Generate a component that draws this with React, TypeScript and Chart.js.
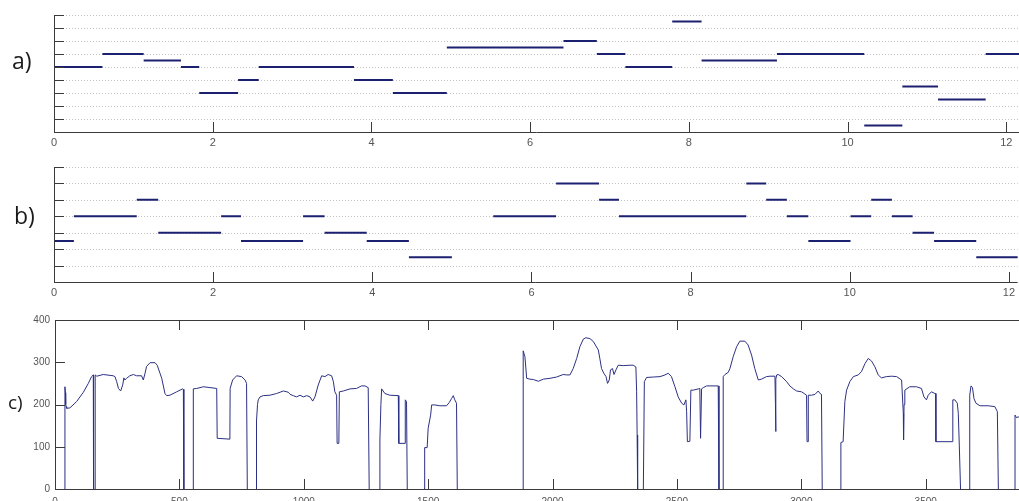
import React, { useEffect, useRef } from 'react';
import { Chart, registerables } from 'chart.js';

Chart.register(...registerables);

// ---------- Panel a) : step levels ----------
const aStart = [0, 0.61, 1.13, 1.6, 1.83, 2.32, 2.58, 3.78, 4.27, 4.95, 6.42, 6.84, 7.2, 7.79, 8.16, 9.11, 10.21, 10.69, 11.14, 11.74];
const aEnd = [0.61, 1.13, 1.6, 1.83, 2.32, 2.58, 3.78, 4.27, 4.95, 6.42, 6.84, 7.2, 7.79, 8.16, 9.11, 10.21, 10.69, 11.14, 11.74, 12.4];
const aLevel = [5, 6, 5.5, 5, 3, 4, 5, 4, 3, 6.5, 7, 6, 5, 8.5, 5.5, 6, 0.5, 3.5, 2.5, 6];

// ---------- Panel b) : step levels ----------
const bStart = [0, 0.25, 1.04, 1.31, 2.1, 2.35, 3.13, 3.4, 3.93, 4.46, 5.52, 6.31, 6.85, 7.1, 8.7, 8.95, 9.21, 9.48, 10.01, 10.27, 10.53, 10.79, 11.06, 11.59];
const bEnd = [0.25, 1.04, 1.31, 2.1, 2.35, 3.13, 3.4, 3.93, 4.46, 5.0, 6.31, 6.85, 7.1, 8.7, 8.95, 9.21, 9.48, 10.01, 10.27, 10.53, 10.79, 11.06, 11.59, 12.4];
const bLevel = [2.5, 4, 5, 3, 4, 2.5, 4, 3, 2.5, 1.5, 4, 6, 5, 4, 6, 5, 4, 2.5, 4, 5, 4, 3, 2.5, 1.5];

// ---------- Panel c) : trace (null = gap) ----------
const cX = [
  40, 40, 42, 43, 45, 47, 60, 87, 114, 134, 147, 154, 155, 155,
  161, 161, 162, 168, 194, 234, 241, 248, 255, 264, 272, 277, 281, 288, 301, 315, 328, 348, 355, 362, 368, 382, 402, 411, 422, 429, 442, 449, 462, 489, 513, 516, 518, 518,
  556, 556, 570, 596, 623, 650, 652, 703, 704, 714, 730, 750, 764, 770, 773, 773,
  810, 810, 814, 817, 824, 837, 864, 891, 918, 938, 945, 958, 971, 985, 998, 1012, 1025, 1036, 1045, 1058, 1072, 1085, 1098, 1112, 1119, 1125, 1132, 1134, 1141, 1143, 1159, 1186, 1212, 1232, 1246, 1259, 1263, 1263,
  1306, 1306, 1310, 1313, 1326, 1346, 1380, 1382, 1407, 1408, 1413, 1416, 1416,
  1484, 1486, 1496, 1500, 1510, 1514, 1527, 1547, 1574, 1585, 1594, 1601, 1607, 1614, 1617, 1617,
  1882, 1882, 1889, 1896, 1909, 1923, 1943, 1963, 1990, 2016, 2043, 2057, 2070, 2083, 2097, 2110, 2124, 2134, 2150, 2164, 2184, 2190, 2197, 2206, 2215, 2221, 2228, 2233, 2241, 2247, 2255, 2264, 2284, 2311, 2324, 2335, 2338, 2340, 2342, 2342,
  2365, 2369, 2378, 2405, 2432, 2452, 2465, 2478, 2492, 2505, 2519, 2528, 2536, 2539, 2542, 2552, 2556, 2566, 2586, 2592, 2595, 2599, 2606, 2619, 2666, 2669, 2669,
  2686, 2686, 2693, 2706, 2713, 2726, 2740, 2753, 2773, 2786, 2800, 2813, 2827, 2840, 2860, 2874, 2894, 2896, 2897, 2898, 2901, 2907, 2921, 2941, 2954, 2968, 2981, 3001, 3014, 3021, 3023, 3027, 3028, 3041, 3055, 3068, 3075, 3081, 3084, 3084,
  3159, 3159, 3168, 3175, 3182, 3195, 3209, 3229, 3242, 3256, 3269, 3282, 3296, 3309, 3322, 3342, 3363, 3383, 3403, 3410, 3411, 3413, 3416, 3436, 3463, 3483, 3493, 3503, 3510, 3523, 3537, 3540, 3541, 3608, 3609, 3617, 3627, 3631, 3635, 3640, 3640,
  3675, 3676, 3678, 3682, 3688, 3694, 3702, 3718, 3751, 3778, 3788, 3792, 3792,
  3859, 3859, 3865, 3875, 3890,
];
const cY = [
  0, 242, 228, 200, 195, 191, 192, 207, 229, 250, 266, 270, 0, null,
  0, 136, 270, 267, 271, 268, 266, 254, 238, 232, 246, 263, 258, 262, 268, 271, 268, 268, 258, 274, 290, 299, 299, 293, 274, 262, 226, 221, 222, 230, 237, 236, 0, null,
  0, 237, 238, 242, 240, 238, 120, 118, 238, 258, 268, 266, 258, 250, 0, null,
  0, 161, 200, 211, 218, 221, 222, 226, 232, 229, 224, 221, 218, 222, 218, 221, 218, 208, 218, 246, 268, 266, 271, 268, 254, 230, 222, 108, 108, 230, 232, 237, 238, 244, 244, 240, 0, null,
  0, 116, 200, 237, 226, 222, 221, 108, 108, 211, 207, 0, null,
  0, 98, 98, 144, 175, 199, 199, 197, 197, 205, 214, 221, 211, 203, 0, null,
  0, 327, 313, 262, 260, 259, 255, 260, 262, 265, 271, 270, 270, 285, 309, 337, 355, 358, 356, 349, 329, 309, 285, 274, 266, 250, 258, 282, 285, 271, 282, 293, 292, 293, 293, 289, 230, 128, 0, null,
  0, 254, 264, 265, 266, 270, 274, 266, 242, 218, 203, 199, 211, 183, 112, 113, 234, 234, 237, 238, 120, 237, 240, 244, 244, 0, null,
  0, 266, 271, 276, 285, 313, 337, 350, 350, 341, 317, 285, 258, 260, 266, 267, 267, 200, 136, 260, 270, 271, 266, 254, 244, 237, 232, 230, 225, 222, 112, 112, 222, 222, 224, 232, 226, 224, 0, null,
  0, 110, 112, 207, 234, 254, 266, 270, 278, 297, 309, 303, 289, 270, 263, 266, 267, 266, 258, 179, 116, 200, 234, 242, 242, 238, 218, 211, 222, 230, 226, 226, 112, 112, 211, 211, 203, 179, 104, 0, null,
  0, 183, 222, 244, 240, 214, 203, 197, 197, 195, 183, 0, null,
  0, 175, 169, 171, 171,
];

// ---------- tick values ----------
const abXTicks = [0, 2, 4, 6, 8, 10, 12];
const aYTicks = [0, 1, 2, 3, 4, 5, 6, 7, 8, 9];
const bYTicks = [0, 1, 2, 3, 4, 5, 6, 7];
const cXTicks = [0, 500, 1000, 1500, 2000, 2500, 3000, 3500];
const cYTicks = [0, 100, 200, 300, 400];

const TICK_FONT = '"Liberation Sans", Arial, sans-serif';
const LABEL_FONT = '"Open Sans", "Noto Sans", sans-serif';

function stepSegments(starts: number[], ends: number[], levels: number[]) {
  const pts: { x: number; y: number | null }[] = [];
  starts.forEach((s, i) => {
    pts.push({ x: s, y: levels[i] }, { x: ends[i], y: levels[i] }, { x: ends[i], y: null });
  });
  return pts;
}

const matlabAxes = {
  id: 'matlabAxes',
  beforeDatasetsDraw(chart: any, _a: any, opts: any) {
    if (!opts.dotted) return;
    const { ctx, chartArea } = chart;
    const ys = chart.scales.y;
    ctx.save();
    ctx.strokeStyle = '#c2c2c2';
    ctx.lineWidth = 1;
    ctx.setLineDash([1, 2]);
    for (const t of ys.ticks) {
      if (t.value <= ys.min) continue;
      const py = Math.round(ys.getPixelForValue(t.value)) + 0.5;
      ctx.beginPath();
      ctx.moveTo(chartArea.left, py);
      ctx.lineTo(chartArea.right, py);
      ctx.stroke();
    }
    ctx.restore();
  },
  afterDatasetsDraw(chart: any, _a: any, opts: any) {
    const { ctx, chartArea } = chart;
    const { left, right, top, bottom } = chartArea;
    const xs = chart.scales.x;
    const ys = chart.scales.y;
    const L = opts.tickLen ?? 10;
    ctx.save();
    ctx.strokeStyle = '#3a3a3a';
    ctx.lineWidth = 1;
    ctx.setLineDash([]);
    ctx.beginPath();
    ctx.moveTo(left + 0.5, top);
    ctx.lineTo(left + 0.5, bottom + 1);
    ctx.moveTo(left, bottom + 0.5);
    ctx.lineTo(right, bottom + 0.5);
    if (opts.box) {
      ctx.moveTo(left, top + 0.5);
      ctx.lineTo(right, top + 0.5);
    }
    for (const t of xs.ticks) {
      if (t.value <= xs.min) continue;
      const px = Math.round(xs.getPixelForValue(t.value)) + 0.5;
      ctx.moveTo(px, bottom);
      ctx.lineTo(px, bottom - L);
      if (opts.box) {
        ctx.moveTo(px, top);
        ctx.lineTo(px, top + L);
      }
    }
    for (const t of ys.ticks) {
      if (t.value <= ys.min) continue;
      if (opts.box && t.value >= ys.max) continue;
      const py = Math.round(ys.getPixelForValue(t.value)) + 0.5;
      ctx.moveTo(left, py);
      ctx.lineTo(left + L, py);
    }
    ctx.stroke();
    ctx.restore();
  },
};

function makeConfig(p: {
  data: { x: number; y: number | null }[];
  color: string;
  width: number;
  xMax: number;
  xTicks: number[];
  yMax: number;
  yTicks: number[];
  showY: boolean;
  leftW: number;
  padTop: number;
  xAxisH: number;
  xPad: number;
  fontSize: number;
  box: boolean;
  dotted: boolean;
}): any {
  return {
    type: 'scatter',
    data: {
      datasets: [
        {
          data: p.data,
          showLine: true,
          spanGaps: false,
          borderColor: p.color,
          backgroundColor: p.color,
          borderWidth: p.width,
          pointRadius: 0,
          tension: 0,
        },
      ],
    },
    options: {
      responsive: false,
      animation: false,
      events: [],
      layout: { padding: { top: p.padTop, left: 0, right: 0, bottom: 0 } },
      plugins: {
        legend: { display: false },
        tooltip: { enabled: false },
        matlabAxes: { box: p.box, dotted: p.dotted, tickLen: 10 },
      },
      scales: {
        x: {
          type: 'linear',
          min: 0,
          max: p.xMax,
          grid: { display: false, drawTicks: false },
          border: { display: false },
          afterBuildTicks: (s: any) => {
            s.ticks = p.xTicks.map((v) => ({ value: v }));
          },
          ticks: {
            autoSkip: false,
            maxRotation: 0,
            padding: p.xPad,
            color: '#555',
            font: { family: TICK_FONT, size: p.fontSize },
            callback: (v: any) => String(v),
          },
          afterFit: (s: any) => {
            s.height = p.xAxisH;
          },
        },
        y: {
          type: 'linear',
          min: 0,
          max: p.yMax,
          grid: { display: false, drawTicks: false },
          border: { display: false },
          afterBuildTicks: (s: any) => {
            s.ticks = p.yTicks.map((v) => ({ value: v }));
          },
          ticks: {
            display: p.showY,
            autoSkip: false,
            padding: 5,
            color: '#555',
            font: { family: TICK_FONT, size: p.fontSize },
            callback: (v: any) => String(v),
          },
          afterFit: (s: any) => {
            s.width = p.leftW;
          },
        },
      },
    },
    plugins: [matlabAxes],
  };
}

export default function App() {
  const refA = useRef<HTMLCanvasElement>(null);
  const refB = useRef<HTMLCanvasElement>(null);
  const refC = useRef<HTMLCanvasElement>(null);

  useEffect(() => {
    const cData = cX.map((x, i) => ({ x, y: cY[i] }));
    const charts = [
      new Chart(
        refA.current as HTMLCanvasElement,
        makeConfig({
          data: stepSegments(aStart, aEnd, aLevel),
          color: '#1c2070',
          width: 2,
          xMax: 12.16,
          xTicks: abXTicks,
          yMax: 9,
          yTicks: aYTicks,
          showY: false,
          leftW: 54,
          padTop: 15,
          xAxisH: 18,
          xPad: 4,
          fontSize: 11,
          box: false,
          dotted: true,
        })
      ),
      new Chart(
        refB.current as HTMLCanvasElement,
        makeConfig({
          data: stepSegments(bStart, bEnd, bLevel),
          color: '#1c2070',
          width: 2,
          xMax: 12.11,
          xTicks: abXTicks,
          yMax: 7,
          yTicks: bYTicks,
          showY: false,
          leftW: 54,
          padTop: 17,
          xAxisH: 18,
          xPad: 4,
          fontSize: 11,
          box: false,
          dotted: true,
        })
      ),
      new Chart(
        refC.current as HTMLCanvasElement,
        makeConfig({
          data: cData,
          color: '#2c3082',
          width: 1,
          xMax: 3875,
          xTicks: cXTicks,
          yMax: 400,
          yTicks: cYTicks,
          showY: true,
          leftW: 55,
          padTop: 20,
          xAxisH: 12,
          xPad: 7,
          fontSize: 10,
          box: true,
          dotted: false,
        })
      ),
    ];
    return () => charts.forEach((c) => c.destroy());
  }, []);

  const lbl = (text: string, left: number, top: number, size: number) => (
    <div
      style={{
        position: 'absolute',
        left,
        top,
        fontFamily: LABEL_FONT,
        fontSize: size,
        lineHeight: `${size + 4}px`,
        color: '#1a1a1a',
      }}
    >
      {text}
    </div>
  );

  return (
    <div
      style={{
        position: 'fixed',
        left: 0,
        top: 0,
        width: 1019,
        height: 501,
        background: '#fff',
        overflow: 'hidden',
      }}
    >
      <canvas ref={refA} width={1019} height={150} style={{ position: 'absolute', left: 0, top: 0, width: 1019, height: 150 }} />
      <canvas ref={refB} width={1019} height={150} style={{ position: 'absolute', left: 0, top: 150, width: 1019, height: 150 }} />
      <canvas ref={refC} width={1019} height={201} style={{ position: 'absolute', left: 0, top: 300, width: 1019, height: 201 }} />
      {lbl('a)', 12, 47, 23)}
      {lbl('b)', 14, 202, 23)}
      {lbl('c)', 8, 391, 19)}
    </div>
  );
}
